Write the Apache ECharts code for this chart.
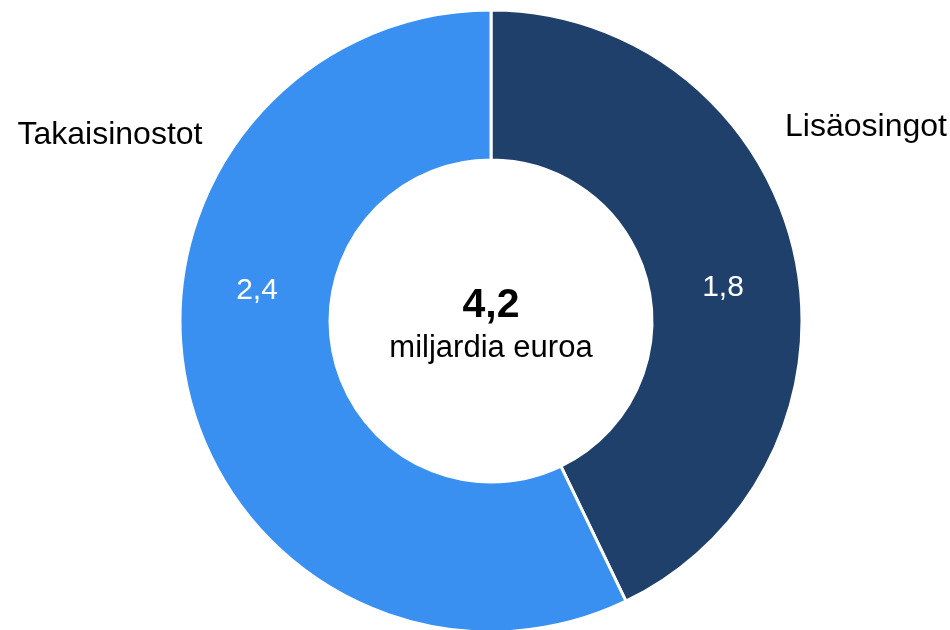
<!DOCTYPE html>
<html>
<head>
<meta charset="utf-8">
<script src="https://cdn.jsdelivr.net/npm/echarts@6/dist/echarts.min.js"></script>
<style>
html,body{margin:0;padding:0;background:#fff;}
#chart{width:950px;height:630px;}
</style>
</head>
<body>
<div id="chart"></div>
<script>
var categories = ['Lisäosingot', 'Takaisinostot'];
var values = [1.8, 2.4];
var totalUnit = 'miljardia euroa';

var colors = ['#1f406b', '#3990f0'];
var fmt = function (v) { return v.toFixed(1).replace('.', ','); };
var total = values.reduce(function (a, b) { return a + b; }, 0);

var cx = 491, cy = 321;
var font = 'Liberation Sans, Arial, sans-serif';

var chart = echarts.init(document.getElementById('chart'));
var data = categories.map(function (c, i) {
  return { name: c, value: values[i], itemStyle: { color: colors[i] } };
});

// positions for the inside value labels and outside name labels
var insidePos = [[723, 288], [257, 291]];
var outsidePos = [[866, 127], [110, 135]];

chart.setOption({
  animation: false,
  backgroundColor: '#ffffff',
  series: [
    {
      type: 'pie',
      center: [cx, cy],
      radius: [161, 311],
      startAngle: 90,
      clockwise: true,
      silent: true,
      itemStyle: { borderColor: '#ffffff', borderWidth: 3 },
      label: {
        show: true,
        position: 'inside',
        color: '#ffffff',
        fontFamily: font,
        fontSize: 30,
        formatter: function (p) { return fmt(p.value); }
      },
      labelLayout: function (p) {
        var pos = insidePos[p.dataIndex];
        return { x: pos[0], y: pos[1], align: 'center', verticalAlign: 'middle' };
      },
      labelLine: { show: false },
      data: data
    },
    {
      type: 'pie',
      center: [cx, cy],
      radius: [161, 311],
      startAngle: 90,
      clockwise: true,
      silent: true,
      itemStyle: { color: 'rgba(0,0,0,0)', borderWidth: 0 },
      label: {
        show: true,
        position: 'outside',
        color: '#000000',
        fontFamily: font,
        fontSize: 32,
        overflow: 'none',
        formatter: '{b}'
      },
      labelLayout: function (p) {
        var pos = outsidePos[p.dataIndex];
        return { x: pos[0], y: pos[1], align: 'center', verticalAlign: 'middle', width: 300 };
      },
      labelLine: { show: false },
      data: categories.map(function (c, i) { return { name: c, value: values[i] }; })
    }
  ],
  graphic: [
    {
      type: 'text',
      x: cx, y: cy - 15,
      style: {
        text: fmt(total),
        fill: '#000000',
        font: 'bold 41px ' + font,
        align: 'center',
        verticalAlign: 'middle'
      }
    },
    {
      type: 'text',
      x: cx, y: cy + 27,
      style: {
        text: totalUnit,
        fill: '#000000',
        font: '31px ' + font,
        align: 'center',
        verticalAlign: 'middle'
      }
    }
  ]
});
</script>
</body>
</html>
